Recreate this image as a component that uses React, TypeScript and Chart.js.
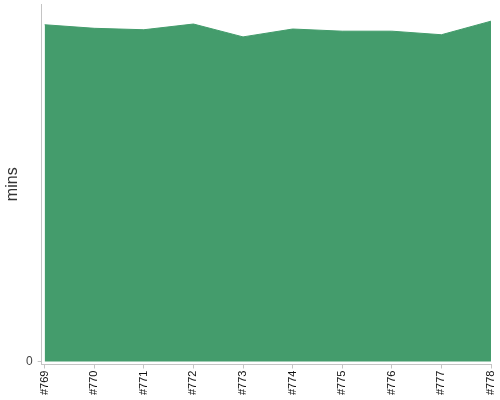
import { useEffect, useRef } from 'react';
import Chart from 'chart.js/auto';

const builds = ['#769', '#770', '#771', '#772', '#773', '#774', '#775', '#776', '#777', '#778'];
const minutes = [47.1, 46.6, 46.4, 47.2, 45.4, 46.5, 46.2, 46.2, 45.7, 47.6];
const yMax = 50;

const fill = '#449c6c';
const axisGrey = '#c4c4c4';
const font = 'Arial, "Liberation Sans", sans-serif';

export default function App() {
  const canvasRef = useRef<HTMLCanvasElement | null>(null);

  useEffect(() => {
    if (!canvasRef.current) {
      return;
    }

    const chart = new Chart(canvasRef.current, {
      type: 'line',
      data: {
        datasets: [
          {
            data: minutes.map((v, i) => ({ x: i, y: v })),
            backgroundColor: fill,
            borderColor: fill,
            borderWidth: 1,
            fill: 'origin',
            pointRadius: 0,
            tension: 0,
          },
        ],
      },
      options: {
        animation: false,
        responsive: true,
        maintainAspectRatio: false,
        layout: { padding: { top: 4, right: 9, left: 0, bottom: 3 } },
        plugins: {
          legend: { display: false },
          tooltip: { enabled: false },
        },
        scales: {
          x: {
            type: 'linear',
            min: -0.06,
            max: builds.length - 1,
            afterBuildTicks: (axis) => {
              axis.ticks = builds.map((_, i) => ({ value: i }));
            },
            afterFit: (axis) => {
              axis.paddingLeft = 0;
              axis.paddingRight = 0;
            },
            grid: {
              drawOnChartArea: false,
              tickLength: 4,
              color: axisGrey,
            },
            border: { color: axisGrey },
            ticks: {
              autoSkip: false,
              minRotation: 90,
              maxRotation: 90,
              padding: 2,
              color: '#111',
              font: { family: font, size: 11 },
              callback: (value) => builds[Number(value)] ?? '',
            },
          },
          y: {
            min: -0.42,
            max: yMax,
            afterBuildTicks: (axis) => {
              axis.ticks = [{ value: 0 }];
            },
            afterFit: (axis) => {
              axis.paddingTop = 0;
              axis.paddingBottom = 0;
            },
            grid: {
              drawOnChartArea: false,
              tickLength: 4,
              color: axisGrey,
            },
            border: { color: axisGrey },
            ticks: {
              padding: 5,
              color: '#444',
              font: { family: font, size: 12 },
            },
            title: {
              display: true,
              text: 'mins',
              color: '#333',
              padding: { top: 5, bottom: 0 },
              font: { family: font, size: 16, lineHeight: 1 },
            },
          },
        },
      },
    });

    return () => {
      chart.destroy();
    };
  }, []);

  return (
    <div style={{ position: 'fixed', left: 0, top: 0, width: 500, height: 400 }}>
      <canvas ref={canvasRef} />
    </div>
  );
}
